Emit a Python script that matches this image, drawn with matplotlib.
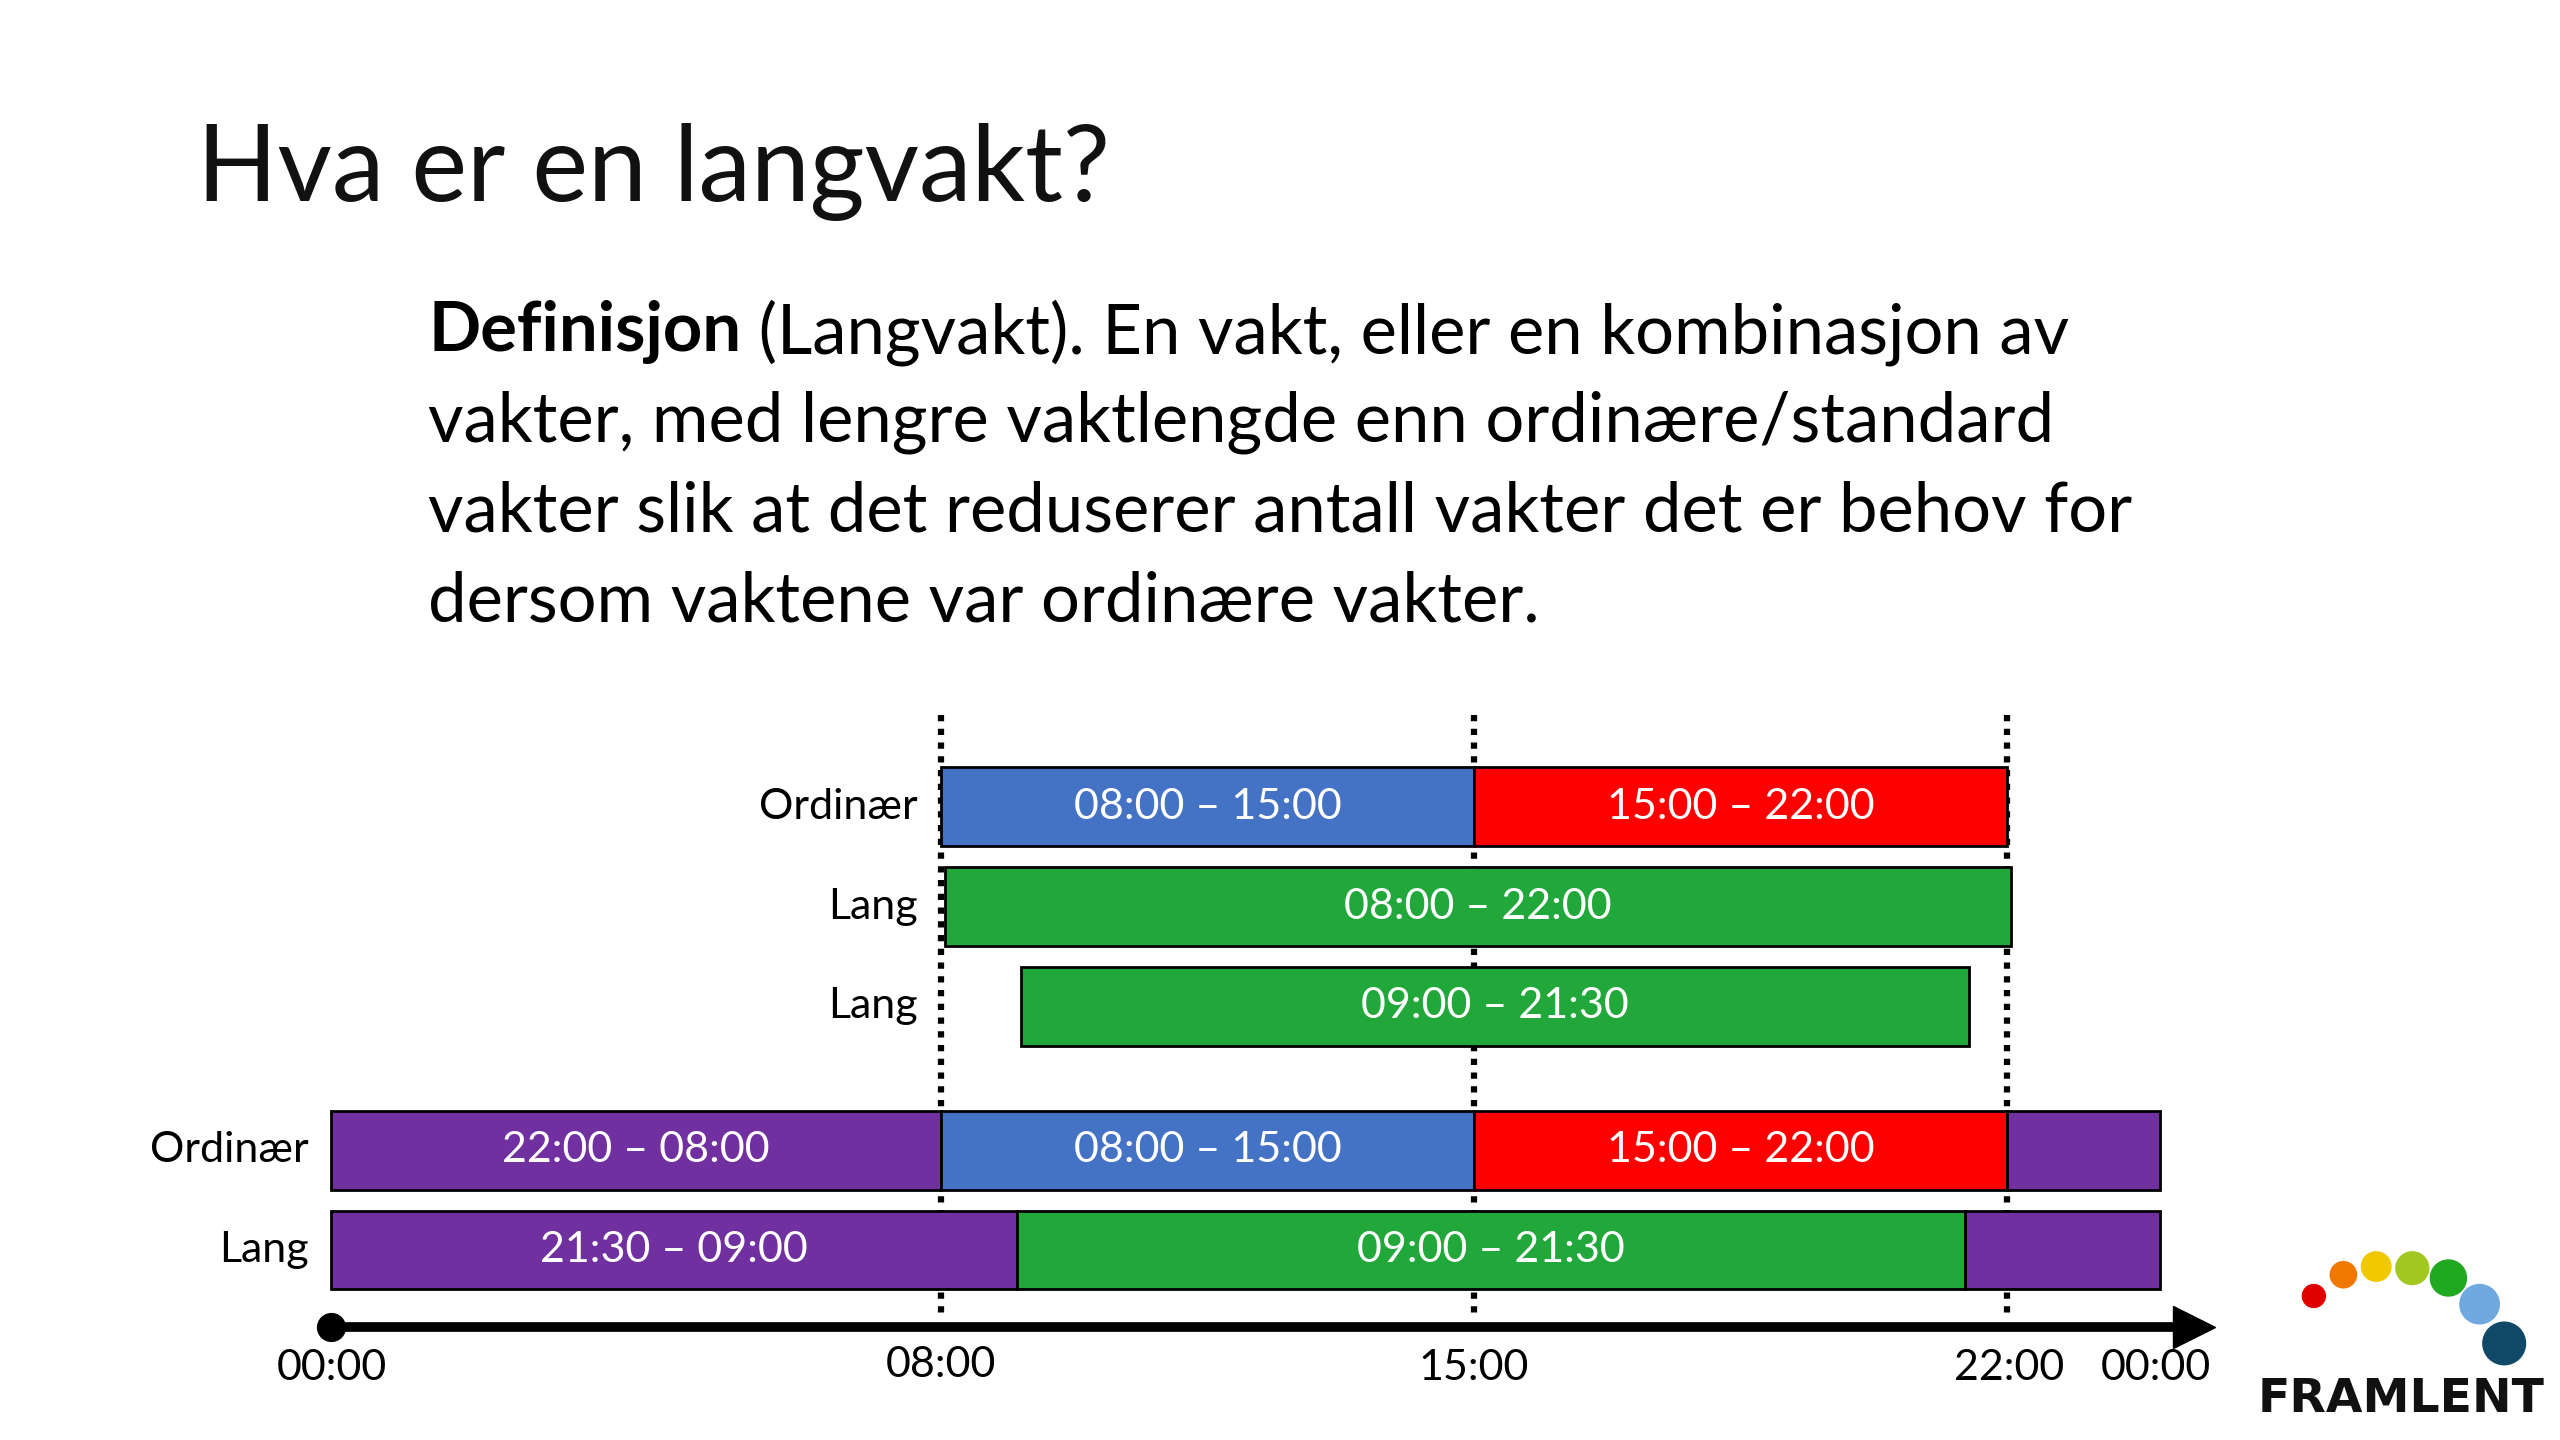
import matplotlib
matplotlib.use("Agg")
import matplotlib.pyplot as plt
from matplotlib.patches import Ellipse

plt.rcParams['font.family'] = ['Lato', 'DejaVu Sans']

row_labels = ["Ordinær", "Lang", "Lang", "Ordinær", "Lang"]
row_label_x = [8.0, 8.0, 8.0, 0.0, 0.0]
row_y = [493, 554, 615, 703, 764]
# segments per row: (start hour, end hour, colour, label)
segments = [
    [(8, 15, "#4472C4", "08:00 – 15:00"), (15, 22, "#FF0000", "15:00 – 22:00")],
    [(8.05, 22.05, "#22A83A", "08:00 – 22:00")],
    [(9.05, 21.5, "#22A83A", "09:00 – 21:30")],
    [(0, 8, "#7030A0", "22:00 – 08:00"), (8, 15, "#4472C4", "08:00 – 15:00"),
     (15, 22, "#FF0000", "15:00 – 22:00"), (22, 24, "#7030A0", "")],
    [(0, 9, "#7030A0", "21:30 – 09:00"), (9, 21.45, "#22A83A", "09:00 – 21:30"),
     (21.45, 24, "#7030A0", "")],
]
tick_hours = [0, 8, 15, 22, 24]
tick_labels = ["00:00", "08:00", "15:00", "22:00", "00:00"]
guide_hours = [8, 15, 22]

fig = plt.figure(figsize=(25.6, 14.4), dpi=100)
ax = fig.add_axes([0, 0, 1, 1])
pxh = (1316 - 202) / 24.0
ax.set_xlim(-202 / pxh, 24 + (1560 - 1316) / pxh)
ax.set_ylim(880, 0)
ax.axis("off")

fig.text(120 / 1560, 1 - 105 / 880, "Hva er en langvakt?", fontsize=76,
         va="center", ha="left", color="#111111")
body = [("Definisjon", " (Langvakt). En vakt, eller en kombinasjon av"),
        ("", "vakter, med lengre vaktlengde enn ordinære/standard"),
        ("", "vakter slik at det reduserer antall vakter det er behov for"),
        ("", "dersom vaktene var ordinære vakter.")]
for i, (b, t) in enumerate(body):
    y = 1 - (203 + 55 * i) / 880
    if b:
        tb = fig.text(261 / 1560, y, b, fontsize=49.5, fontweight="bold", va="center")
        fig.canvas.draw()
        bb = tb.get_window_extent()
        fig.text(bb.x1 / 2560, y, t, fontsize=49.5, va="center")
    else:
        fig.text(261 / 1560, y, t, fontsize=49.5, va="center")

h = 48
for lab, lx, y, segs in zip(row_labels, row_label_x, row_y, segments):
    for s, e, c, l in segs:
        ax.barh(y, e - s, left=s, height=h, color=c, edgecolor="black", linewidth=2, zorder=5)
        if l:
            ax.text((s + e) / 2, y, l, color="white", fontsize=31, ha="center", va="center", zorder=6)
    ax.text(lx - 14 / pxh, y, lab, fontsize=31, ha="right", va="center")

for g in guide_hours:
    ax.plot([g, g], [437, 805], color="black", linestyle=(0, (1, 1.2)), linewidth=4.5, zorder=2)

ax.plot([0, 24.3], [811, 811], color="black", linewidth=7, zorder=5)
ax.plot([24.45], [811], marker=">", color="black", markersize=30, zorder=5)
ax.plot([0], [811], "o", color="black", markersize=20, zorder=6)
tick_y = [836, 834, 836, 836, 836]
for hh, tl, ty in zip(tick_hours, tick_labels, tick_y):
    xx = hh if hh not in (22, 24) else (hh + 0.02 if hh == 22 else 23.95)
    ax.text(xx, ty, tl, fontsize=31, ha="center", va="center")

# logo
dots = [(1410, 792, 7, "#E00000"), (1428, 779, 8, "#F07800"), (1448, 774, 9, "#F0C800"),
        (1470, 775, 10, "#A0C820"), (1492, 781, 11, "#20A820"), (1511, 797, 12, "#70A8E0"),
        (1526, 821, 13, "#104868")]
for x, y, r, c in dots:
    fig.patches.append(Ellipse((x / 1560, 1 - y / 880), 2 * r / 1560, 2 * r / 880,
                               transform=fig.transFigure, color=c))
fig.text(1463 / 1560, 1 - 855 / 880, "FRAMLENT", fontsize=34, fontweight="black",
         ha="center", va="center", color="#111111", family=["DejaVu Sans"])

fig.savefig("out.png", dpi=100, facecolor="white")
